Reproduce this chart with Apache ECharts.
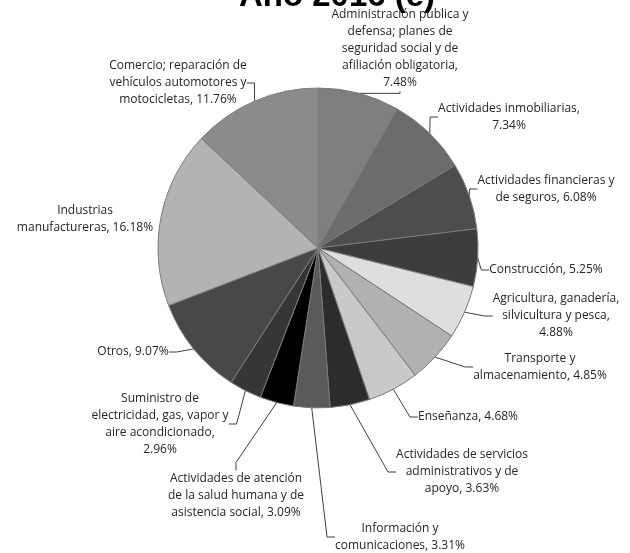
<!DOCTYPE html>
<html>
<head>
<meta charset="utf-8">
<script src="https://cdn.jsdelivr.net/npm/echarts@6/dist/echarts.min.js"></script>
<style>
html,body{margin:0;padding:0;background:#fff;}
#chart{width:630px;height:553px;}
</style>
</head>
<body>
<div id="chart"></div>
<script>
// Data (clockwise from 12 o'clock)
const categories = [
  'Administración pública y\ndefensa; planes de\nseguridad social y de\nafiliación obligatoria',
  'Actividades inmobiliarias',
  'Actividades financieras y\nde seguros',
  'Construcción',
  'Agricultura, ganadería,\nsilvicultura y pesca',
  'Transporte y\nalmacenamiento',
  'Enseñanza',
  'Actividades de servicios\nadministrativos y de\napoyo',
  'Información y\ncomunicaciones',
  'Actividades de atención\nde la salud humana y de\nasistencia social',
  'Suministro de\nelectricidad, gas, vapor y\naire acondicionado',
  'Otros',
  'Industrias\nmanufactureras',
  'Comercio; reparación de\nvehículos automotores y\nmotocicletas'
];
const values = [7.48, 7.34, 6.08, 5.25, 4.88, 4.85, 4.68, 3.63, 3.31, 3.09, 2.96, 9.07, 16.18, 11.76];
const valueOnNewLine = [true, true, false, false, true, false, false, false, false, false, true, false, false, false];
const titleText = 'Año 2016 (e)';

// Styling / layout (not data)
const colors = ['#7f7f7f','#6c6c6c','#4d4d4d','#3d3d3d','#dedede','#b1b1b1','#c9c9c9','#2c2c2c','#5a5a5a','#000000','#363636','#484848','#b3b3b3','#8b8b8b'];
const labelPos = [
  [400,49],[509,117],[546,189],[546,270],[556,316],[540,367],[468,417],
  [462,472],[400,537],[236,496],[160,424],[133,352],[85,219],[178,83]
];

const chart = echarts.init(document.getElementById('chart'), null, {renderer:'canvas'});
const data = categories.map((n, i) => ({
  name: n,
  value: values[i],
  itemStyle: {color: colors[i]},
  labelLine: {show: i !== 12}
}));

chart.setOption({
  animation: false,
  graphic: [{
    type: 'text',
    style: {
      text: titleText, x: 337, y: 13,
      textAlign: 'center', textVerticalAlign: 'bottom',
      font: 'bold 33px "Liberation Sans", Arial, sans-serif', fill: '#000'
    }
  }],
  series: [{
    type: 'pie',
    center: [318, 248],
    radius: 160,
    startAngle: 90,
    clockwise: true,
    avoidLabelOverlap: false,
    data: data,
    itemStyle: {borderColor: '#7a7a7a', borderWidth: 1},
    label: {
      show: true,
      position: 'outside',
      fontFamily: '"Open Sans", sans-serif',
      fontSize: 12,
      lineHeight: 17,
      color: '#262626',
      align: 'center',
      formatter: function (p) {
        return p.name + ',' + (valueOnNewLine[p.dataIndex] ? '\n' : ' ') + p.value.toFixed(2) + '%';
      }
    },
    labelLine: {show: true, length: 8, length2: 8, lineStyle: {color: '#404040', width: 1}},
    labelLayout: function (params) {
      const p = labelPos[params.dataIndex];
      return {x: p[0], y: p[1], align: 'center', verticalAlign: 'middle'};
    },
    emphasis: {disabled: true}
  }]
});
</script>
</body>
</html>
